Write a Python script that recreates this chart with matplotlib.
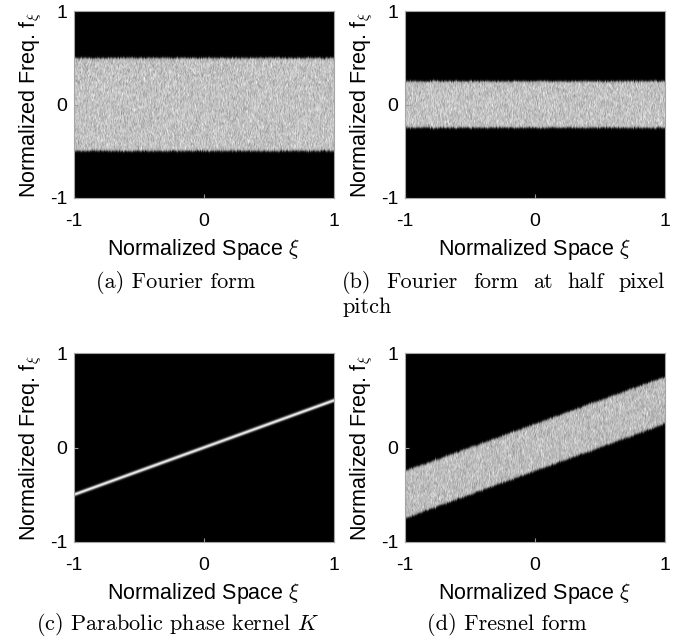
import numpy as np
import matplotlib
matplotlib.use("Agg")
import matplotlib.pyplot as plt

plt.rcParams['font.family'] = ['Liberation Sans', 'DejaVu Sans']
plt.rcParams['mathtext.fontset'] = 'cm'

# one entry per panel: the bright band follows f = offset + slope * xi
band_offset = [0.0, 0.0, 0.0, 0.0]
band_slope = [0.0, 0.0, 0.5, 0.5]
band_halfwidth = [0.5, 0.25, 0.0, 0.25]
band_level = [0.76, 0.76, 1.0, 0.74]
band_grain = [True, True, False, True]

tick_vals = [-1, 0, 1]
tick_text = ['-1', '0', '1']

captions = ['(a) Fourier form',
            None,
            r'(c) Parabolic phase kernel $K$',
            '(d) Fresnel form']
caption_b_words = ['(b)', 'Fourier', 'form', 'at', 'half', 'pixel']
caption_b_tail = 'pitch'

W, H = 694, 641
fig = plt.figure(figsize=(W / 100, H / 100), dpi=100)

# axes boxes in pixels: left, top, right, bottom
boxes = [(74, 11, 334, 198), (405, 11, 665, 198),
         (74, 353, 334, 542), (405, 353, 665, 542)]

nx, ny = 260, 190
xi = np.linspace(-1, 1, nx)
fq = np.linspace(-1, 1, ny)
XI, FQ = np.meshgrid(xi, fq)
rng = np.random.default_rng(7)


def band_image(k):
    d = FQ - (band_offset[k] + band_slope[k] * XI)
    if band_halfwidth[k] > 0:
        # slightly ragged edge from column to column
        hw = band_halfwidth[k] + 0.004 * rng.normal(0, 1, (1, nx))
        mask = 0.5 * (1 - np.tanh((np.abs(d) - hw) / 0.013))
    else:
        mask = np.exp(-0.5 * (d / 0.013) ** 2)
    img = band_level[k] * mask
    if band_grain[k]:
        g = rng.normal(0, 1, (ny, nx))
        # speckle, smeared a little along the frequency axis
        g = (0.5 * np.roll(g, 1, axis=0) + g + 0.5 * np.roll(g, -1, axis=0)) / np.sqrt(1.5)
        img = img * (1 + 0.07 * g)
    return np.clip(img, 0, 1)


for k, (l, t, r, b) in enumerate(boxes):
    ax = fig.add_axes([l / W, 1 - b / H, (r - l) / W, (b - t) / H])
    ax.imshow(band_image(k), extent=[-1, 1, -1, 1], origin='lower',
              cmap='gray', vmin=0, vmax=1, aspect='auto',
              interpolation='bilinear')
    ax.set_xlim(-1, 1)
    ax.set_ylim(-1, 1)
    ax.set_xticks(tick_vals)
    ax.set_xticklabels(tick_text)
    ax.set_yticks(tick_vals)
    ax.set_yticklabels(tick_text)
    ax.tick_params(direction='in', length=3, color='0.6', labelsize=14,
                   pad=5)
    ax.tick_params(axis='x', pad=11)
    for s in ax.spines.values():
        s.set_color('0.65')
        s.set_linewidth(0.8)
    ax.set_xlabel(r'Normalized Space $\xi$', fontsize=15.5, labelpad=4.5)
    ax.set_ylabel(r'Normalized Freq. f$_{\xi}$', fontsize=15.5, labelpad=4)

cap_fs = 16
cap_font = 'cmr10'
fig.text(176 / W, 1 - 282 / H, captions[0], ha='center', va='center',
         fontsize=cap_fs, family=cap_font)
fig.text(178 / W, 1 - 625 / H, captions[2], ha='center', va='center',
         fontsize=cap_fs, family=cap_font)
fig.text(507 / W, 1 - 625 / H, captions[3], ha='center', va='center',
         fontsize=cap_fs, family=cap_font)

# caption (b) is set justified over the column width, then wraps
renderer = fig.canvas.get_renderer()
x0, x1 = 342, 665
words = [fig.text(x0 / W, 1 - 282 / H, w, ha='left', va='center',
                  fontsize=cap_fs, family=cap_font) for w in caption_b_words]
widths = [t.get_window_extent(renderer).width for t in words]
gap = (x1 - x0 - sum(widths)) / (len(words) - 1)
xpos = x0
for t, wd in zip(words, widths):
    t.set_x(xpos / W)
    xpos += wd + gap
fig.text(x0 / W, 1 - 307 / H, caption_b_tail, ha='left', va='center',
         fontsize=cap_fs, family=cap_font)

fig.savefig('out.png', dpi=100)
